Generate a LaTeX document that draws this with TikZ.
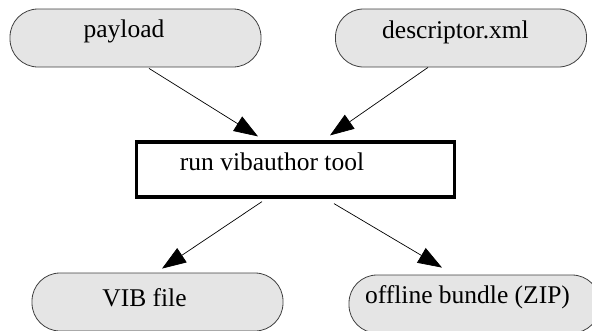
\documentclass[tikz,border=0pt]{standalone}
\usepackage{fontspec}
\setmainfont{Liberation Serif}
\usetikzlibrary{arrows.meta}
\begin{document}
\begin{tikzpicture}[x=1pt,y=1pt,
  pill/.style={draw=black!75,line width=0.8pt,fill=black!10,rounded corners=28pt,
    minimum width=251pt,minimum height=58pt,inner sep=0pt},
  toolbox/.style={draw=black,line width=3.2pt,minimum width=318pt,minimum height=55pt,inner sep=0pt},
  lbl/.style={anchor=base,font=\fontsize{25.5}{28}\selectfont,inner sep=0pt},
  arr/.style={draw=black,line width=0.7pt,-{Triangle[length=24pt,width=17pt]}}]
\useasboundingbox (0,0) rectangle (592,-330);
\node[pill] (payload) at (135.5,-38) {};
\node[lbl] (payloadtxt) at (124,-37) {payload};
\node[pill] (descr) at (461,-38) {};
\node[lbl] (descrtxt) at (455.5,-38) {descriptor.xml};
\node[toolbox] (tool) at (295.5,-169.5) {};
\node[lbl] (tooltxt) at (272,-170) {run vibauthor tool};
\node[pill] (vib) at (157.5,-302) {};
\node[lbl] (vibtxt) at (144.5,-306) {VIB file};
\node[pill] (zip) at (474.5,-304) {};
\node[lbl] (ziptxt) at (467.5,-303) {offline bundle (ZIP)};
\draw[arr] ([xshift=13.5pt,yshift=-1pt]payload.south) -- ([xshift=-37.5pt,yshift=4pt]tool.north);
\draw[arr] ([xshift=-33pt]descr.south) -- ([xshift=34.5pt,yshift=5pt]tool.north);
\draw[arr] ([xshift=-33.5pt,yshift=-3pt]tool.south) -- ([xshift=4.5pt,yshift=4pt]vib.north);
\draw[arr] ([xshift=38.5pt,yshift=-5pt]tool.south) -- ([xshift=-32.5pt,yshift=7pt]zip.north);
\end{tikzpicture}
\end{document}
